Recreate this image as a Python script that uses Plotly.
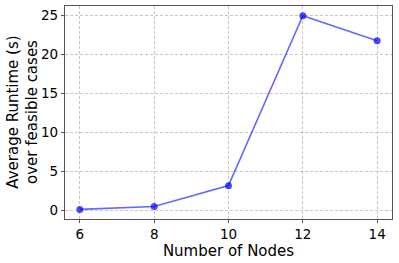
import plotly.graph_objects as go

nodes = [6, 8, 10, 12, 14]
runtime = [0.15, 0.52, 3.2, 25.0, 21.8]
x_ticks = [6, 8, 10, 12, 14]
y_ticks = [0, 5, 10, 15, 20, 25]
y_title = "Average Runtime (s)<br>over feasible cases"

fig = go.Figure()
fig.add_trace(go.Scatter(
    x=nodes, y=runtime, mode="lines+markers",
    line=dict(color="rgba(0,0,255,0.6)", width=1.6),
    marker=dict(color="rgba(0,0,255,0.7)", size=7),
))

font = dict(family="DejaVu Sans", color="black")
axis_common = dict(
    showline=True, linecolor="#555", linewidth=1.2, mirror=True,
    ticks="outside", ticklen=3, tickcolor="#555",
    showgrid=True, gridcolor="rgba(0,0,0,0.22)", griddash="3px,2px", gridwidth=0.8,
    zeroline=False, tickfont=dict(size=13.5, **font),
)
fig.update_xaxes(range=[5.6, 14.4], tickvals=x_ticks,
                 title=dict(text="Number of Nodes", font=dict(size=15, **font), standoff=0),
                 **axis_common)
fig.update_yaxes(range=[-1.08, 26.25], tickvals=y_ticks, **axis_common)
fig.add_annotation(text=y_title, xref="paper", yref="paper", x=-0.131, y=0.5,
                   xanchor="center", yanchor="middle", textangle=-90, showarrow=False,
                   font=dict(size=15, **font))
fig.update_layout(
    width=399, height=263, showlegend=False,
    paper_bgcolor="white", plot_bgcolor="white",
    margin=dict(l=65, r=7, t=6, b=44),
    font=font,
)
fig.write_html("out.html", config={"displayModeBar": False},
               post_script="document.body.style.margin='0px';")
